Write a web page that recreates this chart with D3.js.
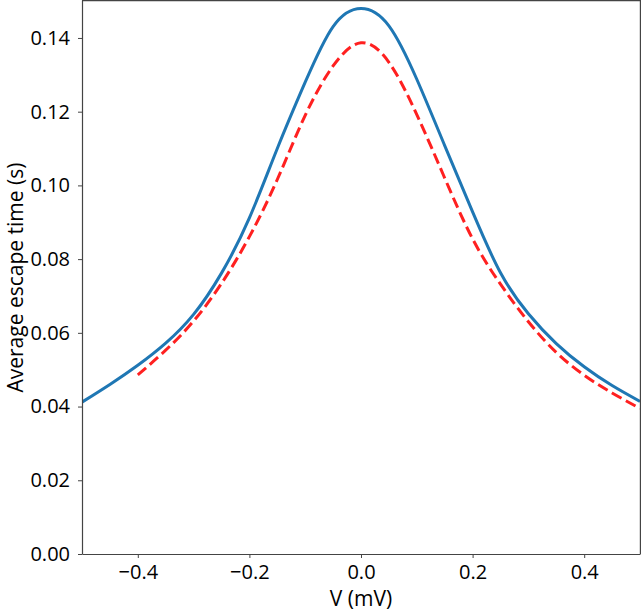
<!DOCTYPE html>
<html>
<head>
<meta charset="utf-8">
<script src="https://cdn.jsdelivr.net/npm/d3@7"></script>
<style>
  body { margin: 0; background: #fff; }
  svg { display: block; font-family: "Open Sans", "Noto Sans", sans-serif; }
</style>
</head>
<body>
<svg></svg>
<script>
let width = 641, height = 612;

// Data: voltage (mV) and average escape time (s)
const blueV = [-0.5, -0.45, -0.4, -0.35, -0.3, -0.25, -0.2, -0.15, -0.1, -0.05, 0,
               0.05, 0.1, 0.15, 0.2, 0.25, 0.3, 0.35, 0.4, 0.45, 0.5];
const blueT = [0.0412, 0.0460, 0.0512, 0.0572, 0.0650, 0.0762, 0.0912, 0.1100, 0.1280, 0.1431, 0.1480,
               0.1433, 0.1288, 0.1108, 0.0928, 0.0763, 0.0652, 0.0571, 0.0508, 0.0457, 0.0414];
const redV = [-0.4, -0.35, -0.3, -0.25, -0.2, -0.15, -0.1, -0.05, 0,
              0.05, 0.1, 0.15, 0.2, 0.25, 0.3, 0.35, 0.4, 0.45, 0.5];
const redT = [0.0486, 0.0553, 0.0632, 0.0734, 0.0861, 0.1016, 0.1190, 0.1324, 0.1387,
              0.1334, 0.1192, 0.1020, 0.0855, 0.0732, 0.0630, 0.0547, 0.0485, 0.0437, 0.0395];
const xTicks = [-0.4, -0.2, 0.0, 0.2, 0.4];
const yTicks = [0.00, 0.02, 0.04, 0.06, 0.08, 0.10, 0.12, 0.14];

let margin = {top: 0, right: 1, bottom: 58, left: 82};

let svg = d3.select("svg")
  .attr("width", width)
  .attr("height", height);

let x = d3.scaleLinear().domain([-0.5, 0.5]).range([margin.left, width - margin.right]);
let y = d3.scaleLinear().domain([0, 0.1503]).range([height - margin.bottom, margin.top]);

svg.append("defs").append("clipPath").attr("id", "plot")
  .append("rect")
  .attr("x", margin.left).attr("y", margin.top)
  .attr("width", width - margin.left - margin.right)
  .attr("height", height - margin.top - margin.bottom);

let line = d3.line().x(d => x(d[0])).y(d => y(d[1])).curve(d3.curveNatural);

let g = svg.append("g").attr("clip-path", "url(#plot)");

g.append("path")
  .datum(d3.zip(blueV, blueT))
  .attr("fill", "none")
  .attr("stroke", "#1f77b4")
  .attr("stroke-width", 3)
  .attr("d", line);

g.append("path")
  .datum(d3.zip(redV, redT))
  .attr("fill", "none")
  .attr("stroke", "#ff2020")
  .attr("stroke-width", 3)
  .attr("stroke-dasharray", "11,5")
  .attr("d", line);

// Axes
let fmtX = d => d3.format(".1f")(d).replace("-", "\u2212");

let xAxis = svg.append("g")
  .attr("transform", "translate(0," + (height - margin.bottom) + ")")
  .call(d3.axisBottom(x).tickValues(xTicks).tickFormat(fmtX).tickSize(4).tickSizeOuter(0).tickPadding(7));

let yAxis = svg.append("g")
  .attr("transform", "translate(" + margin.left + ",0)")
  .call(d3.axisLeft(y).tickValues(yTicks).tickFormat(d3.format(".2f")).tickSize(4).tickSizeOuter(0).tickPadding(8));

[xAxis, yAxis].forEach(a => {
  a.selectAll("text").attr("font-size", 20).attr("fill", "#000").attr("font-family", "Open Sans, sans-serif");
  a.selectAll("line").attr("stroke", "#444");
  a.select(".domain").attr("stroke", "#444").attr("stroke-width", 1.2);
});

// Frame (top and right spines)
svg.append("path")
  .attr("fill", "none")
  .attr("stroke", "#444")
  .attr("stroke-width", 1.2)
  .attr("d", "M" + margin.left + "," + (margin.top + 0.6) + "H" + (width - margin.right + 0.4) + "V" + (height - margin.bottom));

// Axis labels
svg.append("text")
  .attr("x", x(0))
  .attr("y", 606)
  .attr("text-anchor", "middle")
  .attr("font-size", 21)
  .text("V (mV)");

svg.append("text")
  .attr("transform", "translate(23," + y(0.075) + ") rotate(-90)")
  .attr("text-anchor", "middle")
  .attr("font-size", 21)
  .text("Average escape time (s)");
</script>
</body>
</html>
